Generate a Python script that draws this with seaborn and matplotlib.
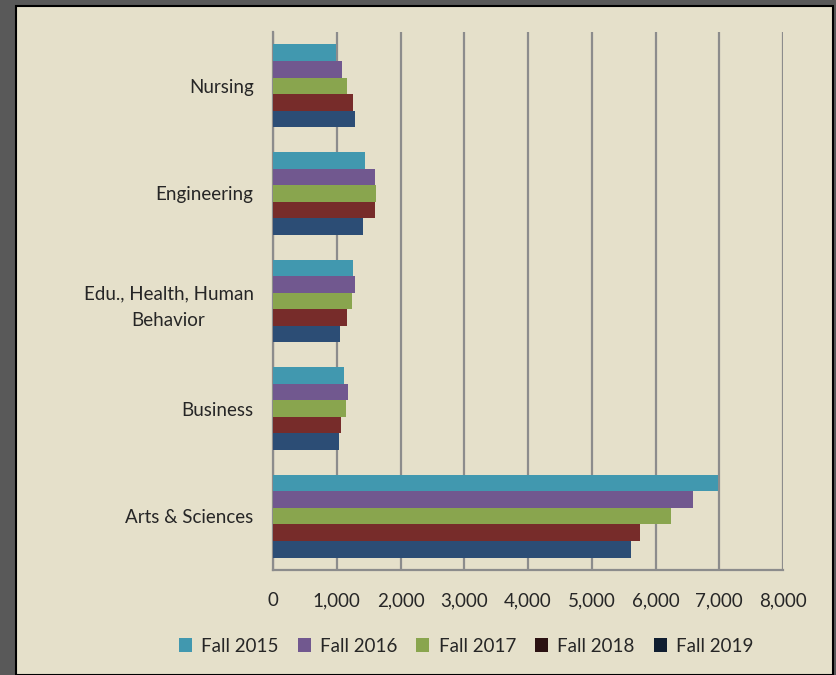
import pandas as pd
import matplotlib.pyplot as plt
import seaborn as sns
from matplotlib.patches import Rectangle, Patch

colleges = ["Nursing", "Engineering", "Edu., Health, Human\nBehavior", "Business", "Arts & Sciences"]
years = ["Fall 2015", "Fall 2016", "Fall 2017", "Fall 2018", "Fall 2019"]
fall_2015 = [990, 1450, 1255, 1110, 6980]
fall_2016 = [1085, 1595, 1290, 1175, 6590]
fall_2017 = [1160, 1610, 1240, 1140, 6250]
fall_2018 = [1250, 1600, 1165, 1070, 5760]
fall_2019 = [1285, 1410, 1055, 1035, 5620]
xticks = [0, 1000, 2000, 3000, 4000, 5000, 6000, 7000, 8000]

bar_colors = ["#4198AF", "#71588F", "#89A54E", "#772C2A", "#2C4D75"]
legend_colors = ["#4198AF", "#71588F", "#89A54E", "#2B1212", "#101E30"]
bg = "#E5E0CA"

rows = []
for yr, vals in zip(years, [fall_2015, fall_2016, fall_2017, fall_2018, fall_2019]):
    for c, v in zip(colleges, vals):
        rows.append({"College": c, "Year": yr, "Enrollment": v})
df = pd.DataFrame(rows)

sns.set_style("white")
plt.rcParams["font.family"] = ["Lato", "DejaVu Sans"]

fig = plt.figure(figsize=(8.37, 6.75), dpi=100)
fig.patch.set_facecolor("#595959")
panel = Rectangle((16 / 837, 0), (833 - 16) / 837, (675 - 6) / 675,
                  transform=fig.transFigure, facecolor=bg,
                  edgecolor="black", linewidth=1.5, zorder=-5)
fig.add_artist(panel)

ax = fig.add_axes([273 / 837, 1 - 570 / 675, (783 - 273) / 837, (570 - 32) / 675])
ax.patch.set_alpha(0)

sns.barplot(data=df, x="Enrollment", y="College", hue="Year", order=colleges,
            hue_order=years, palette=bar_colors, orient="h", width=0.77,
            saturation=1, linewidth=0, ax=ax, legend=False, zorder=3)

ax.set_xlim(0, 8000)
ax.set_ylim(4.5, -0.5)
ax.set_xticks(xticks)
ax.set_xticklabels([f"{t:,}" for t in xticks], fontsize=13.5)
ax.set_yticks(range(len(colleges)))
ax.set_yticklabels(colleges, fontsize=13.5, multialignment="center", linespacing=1.7)
ax.set_yticks([i - 0.5 for i in range(len(colleges) + 1)], minor=True)
ax.tick_params(axis="y", which="major", length=0, pad=14)
ax.tick_params(axis="y", which="minor", length=5, color="#8C8C8C", width=1.5)
ax.tick_params(axis="x", length=5, color="#8C8C8C", width=1.5, pad=11)
ax.set_xlabel("")
ax.set_ylabel("")

ax.grid(axis="x", color="#8C8C8C", linewidth=1.6, zorder=1)
ax.set_axisbelow(True)
for s in ["top", "right"]:
    ax.spines[s].set_visible(False)
for s in ["left", "bottom"]:
    ax.spines[s].set_color("#8C8C8C")
    ax.spines[s].set_linewidth(1.6)

handles = [Patch(facecolor=c, edgecolor="none") for c in legend_colors]
fig.legend(handles, years, loc="center", bbox_to_anchor=(0.557, 1 - 646 / 675),
           ncol=5, frameon=False, fontsize=13.5, handlelength=0.7, handleheight=0.7,
           handletextpad=0.5, columnspacing=1.0)

fig.savefig("out.png", dpi=100, facecolor=fig.get_facecolor())
